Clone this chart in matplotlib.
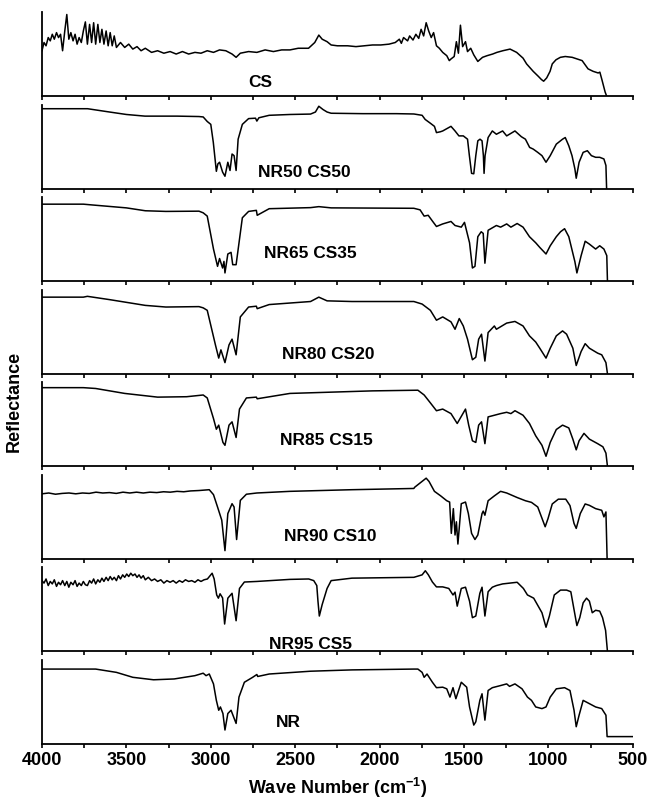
import numpy as np
import matplotlib.pyplot as plt
from matplotlib.ticker import MultipleLocator

plt.rcParams['font.family'] = ['Liberation Sans', 'DejaVu Sans']
plt.rcParams['font.weight'] = 'bold'
plt.rcParams['mathtext.fontset'] = 'custom'
plt.rcParams['mathtext.bf'] = 'Liberation Sans:bold'
plt.rcParams['mathtext.rm'] = 'Liberation Sans:bold'

# spectra: wavenumber (cm-1) and relative reflectance
cs_wn = [4000, 3988, 3976, 3963, 3951, 3939, 3927, 3914, 3902, 3890, 3878, 3865, 3853, 3841,
         3829, 3816, 3804, 3792, 3780, 3767, 3755, 3743, 3731, 3718, 3706, 3694, 3682, 3669,
         3657, 3645, 3633, 3620, 3608, 3596, 3584, 3572, 3559, 3535, 3510, 3486, 3462, 3437,
         3413, 3388, 3351, 3315, 3278, 3241, 3205, 3168, 3131, 3094, 3058, 3021, 2984, 2948,
         2911, 2874, 2850, 2825, 2776, 2727, 2678, 2629, 2580, 2531, 2482, 2421, 2384, 2360,
         2340, 2311, 2287, 2250, 2189, 2140, 2091, 2042, 1993, 1944, 1907, 1883, 1871, 1858,
         1834, 1822, 1802, 1785, 1768, 1754, 1739, 1724, 1709, 1694, 1680, 1663, 1646, 1626,
         1602, 1587, 1577, 1558, 1545, 1533, 1521, 1508, 1491, 1479, 1460, 1442, 1418, 1390,
         1363, 1330, 1305, 1270, 1227, 1188, 1150, 1129, 1090, 1060, 1041, 1028, 1010, 990,
         977, 955, 929, 900, 859, 830, 800, 765, 735, 705, 695, 683, 664, 655]
cs_r = [0.55, 0.65, 0.61, 0.71, 0.67, 0.75, 0.69, 0.77, 0.71, 0.75, 0.55, 0.79, 0.99, 0.69,
        0.77, 0.67, 0.75, 0.63, 0.71, 0.65, 0.79, 0.90, 0.63, 0.87, 0.65, 0.89, 0.63, 0.87,
        0.65, 0.81, 0.63, 0.79, 0.61, 0.77, 0.61, 0.73, 0.59, 0.65, 0.59, 0.63, 0.57, 0.60,
        0.55, 0.58, 0.53, 0.55, 0.52, 0.54, 0.51, 0.54, 0.51, 0.53, 0.52, 0.55, 0.53, 0.56,
        0.55, 0.51, 0.47, 0.52, 0.54, 0.53, 0.56, 0.54, 0.56, 0.56, 0.58, 0.58, 0.65, 0.74,
        0.69, 0.66, 0.62, 0.61, 0.61, 0.60, 0.61, 0.62, 0.62, 0.63, 0.65, 0.69, 0.64, 0.71,
        0.67, 0.73, 0.68, 0.75, 0.70, 0.81, 0.73, 0.89, 0.79, 0.71, 0.77, 0.61, 0.58, 0.53,
        0.49, 0.43, 0.45, 0.48, 0.66, 0.52, 0.86, 0.60, 0.66, 0.54, 0.58, 0.50, 0.42, 0.47,
        0.49, 0.51, 0.53, 0.55, 0.57, 0.53, 0.46, 0.39, 0.30, 0.24, 0.20, 0.18, 0.22, 0.30,
        0.39, 0.44, 0.47, 0.48, 0.47, 0.45, 0.43, 0.33, 0.30, 0.28, 0.29, 0.20, 0.05, 0.0]

nr50_wn = [4000, 3730, 3600, 3500, 3390, 3200, 3070, 3045, 3021, 3000, 2985, 2967, 2958, 2948,
           2930, 2916, 2899, 2886, 2874, 2862, 2850, 2838, 2813, 2776, 2735, 2727, 2715, 2654,
           2531, 2409, 2380, 2360, 2335, 2311, 2287, 2100, 1900, 1797, 1748, 1730, 1700, 1675,
           1663, 1640, 1626, 1577, 1553, 1530, 1504, 1479, 1468, 1455, 1442, 1430, 1418, 1405,
           1393, 1385, 1381, 1375, 1357, 1332, 1308, 1271, 1247, 1198, 1160, 1136, 1111, 1090,
           1063, 1038, 1014, 989, 953, 916, 900, 879, 860, 843, 835, 818, 794, 769, 745, 720,
           696, 671, 659, 655]
nr50_r = [0.97, 0.97, 0.93, 0.90, 0.88, 0.88, 0.875, 0.87, 0.815, 0.78, 0.56, 0.21, 0.30, 0.32,
          0.20, 0.15, 0.32, 0.22, 0.42, 0.40, 0.22, 0.60, 0.78, 0.85, 0.855, 0.82, 0.86, 0.89,
          0.90, 0.905, 0.93, 1.0, 0.96, 0.93, 0.915, 0.91, 0.91, 0.906, 0.89, 0.84, 0.795, 0.756,
          0.68, 0.69, 0.70, 0.756, 0.70, 0.64, 0.64, 0.60, 0.40, 0.185, 0.18, 0.40, 0.58, 0.60,
          0.58, 0.40, 0.185, 0.40, 0.62, 0.70, 0.66, 0.70, 0.64, 0.70, 0.63, 0.60, 0.50, 0.48,
          0.44, 0.40, 0.32, 0.40, 0.54, 0.60, 0.62, 0.52, 0.40, 0.24, 0.126, 0.32, 0.44, 0.46,
          0.40, 0.38, 0.38, 0.36, 0.28, 0.0]

nr65_wn = [4000, 3755, 3700, 3500, 3388, 3266, 3070, 3045, 3021, 2984, 2960, 2948, 2930, 2922,
           2916, 2899, 2880, 2870, 2850, 2813, 2776, 2730, 2725, 2654, 2409, 2360, 2287, 1797,
           1760, 1736, 1712, 1687, 1663, 1626, 1577, 1553, 1516, 1497, 1467, 1450, 1435, 1418,
           1398, 1386, 1376, 1357, 1308, 1283, 1247, 1222, 1185, 1150, 1112, 1075, 1051, 1014,
           989, 953, 928, 904, 879, 843, 831, 806, 782, 757, 720, 696, 671, 654, 650]
nr65_r = [0.935, 0.935, 0.925, 0.89, 0.855, 0.847, 0.85, 0.83, 0.79, 0.39, 0.18, 0.275, 0.16,
          0.24, 0.10, 0.33, 0.35, 0.20, 0.20, 0.77, 0.847, 0.86, 0.80, 0.88, 0.893, 0.905, 0.89,
          0.885, 0.866, 0.79, 0.80, 0.73, 0.664, 0.695, 0.725, 0.676, 0.656, 0.714, 0.466, 0.16,
          0.18, 0.54, 0.60, 0.58, 0.218, 0.618, 0.676, 0.656, 0.695, 0.656, 0.70, 0.656, 0.54,
          0.466, 0.41, 0.33, 0.43, 0.54, 0.60, 0.637, 0.54, 0.237, 0.10, 0.31, 0.485, 0.45, 0.39,
          0.43, 0.39, 0.31, 0.0]

nr80_wn = [4000, 3755, 3731, 3600, 3388, 3266, 3070, 3045, 3021, 2972, 2953, 2940, 2916, 2892,
           2874, 2850, 2825, 2776, 2730, 2725, 2654, 2409, 2360, 2311, 2164, 1797, 1748, 1699,
           1663, 1626, 1577, 1553, 1528, 1504, 1479, 1450, 1430, 1413, 1396, 1376, 1357, 1320,
           1308, 1247, 1198, 1150, 1112, 1075, 1051, 1014, 989, 953, 916, 892, 855, 835, 806,
           782, 757, 708, 684, 659, 650]
nr80_r = [0.93, 0.93, 0.94, 0.90, 0.83, 0.81, 0.815, 0.80, 0.77, 0.346, 0.19, 0.29, 0.135, 0.35,
          0.42, 0.23, 0.69, 0.81, 0.82, 0.79, 0.84, 0.877, 0.93, 0.885, 0.877, 0.877, 0.846,
          0.77, 0.65, 0.69, 0.63, 0.54, 0.67, 0.58, 0.42, 0.17, 0.20, 0.42, 0.48, 0.154, 0.50,
          0.58, 0.54, 0.615, 0.635, 0.58, 0.46, 0.385, 0.31, 0.19, 0.31, 0.46, 0.52, 0.48, 0.31,
          0.10, 0.27, 0.365, 0.31, 0.25, 0.23, 0.135, 0.0]

nr85_wn = [4000, 3755, 3682, 3510, 3315, 3143, 3045, 3021, 2984, 2967, 2953, 2928, 2916, 2892,
           2874, 2850, 2830, 2789, 2730, 2725, 2531, 2042, 1773, 1736, 1699, 1663, 1626, 1577,
           1540, 1491, 1472, 1450, 1430, 1413, 1396, 1376, 1357, 1320, 1283, 1247, 1222, 1198,
           1150, 1112, 1075, 1038, 1014, 989, 953, 916, 879, 855, 835, 818, 789, 757, 708, 677,
           659, 650]
nr85_r = [0.955, 0.955, 0.945, 0.885, 0.84, 0.845, 0.866, 0.83, 0.58, 0.45, 0.50, 0.29, 0.255,
          0.50, 0.54, 0.35, 0.695, 0.83, 0.84, 0.82, 0.885, 0.916, 0.924, 0.866, 0.77, 0.675,
          0.695, 0.64, 0.52, 0.695, 0.50, 0.31, 0.29, 0.50, 0.54, 0.275, 0.60, 0.62, 0.64, 0.656,
          0.64, 0.675, 0.62, 0.52, 0.37, 0.255, 0.122, 0.29, 0.447, 0.50, 0.466, 0.33, 0.20, 0.31,
          0.40, 0.33, 0.275, 0.237, 0.16, 0.0]

nr90_wn = [4000, 3960, 3920, 3880, 3840, 3800, 3760, 3720, 3680, 3640, 3600, 3560, 3520, 3480,
           3440, 3400, 3360, 3320, 3280, 3240, 3200, 3160, 3120, 3070, 3009, 2984, 2960, 2935,
           2916, 2899, 2874, 2862, 2847, 2825, 2789, 2727, 2531, 2164, 1797, 1792, 1724, 1707,
           1675, 1638, 1602, 1585, 1575, 1563, 1553, 1545, 1536, 1516, 1491, 1474, 1455, 1435,
           1418, 1393, 1386, 1376, 1357, 1320, 1283, 1247, 1185, 1136, 1100, 1063, 1019, 1002,
           977, 941, 897, 872, 848, 835, 811, 782, 757, 720, 684, 671, 659, 652]
nr90_r = [0.79, 0.80, 0.785, 0.795, 0.80, 0.79, 0.80, 0.795, 0.81, 0.80, 0.805, 0.795, 0.81,
          0.80, 0.81, 0.80, 0.81, 0.805, 0.815, 0.81, 0.82, 0.815, 0.825, 0.83, 0.84, 0.78, 0.63,
          0.47, 0.10, 0.55, 0.67, 0.63, 0.235, 0.71, 0.785, 0.80, 0.82, 0.84, 0.855, 0.87, 0.98,
          0.94, 0.82, 0.765, 0.706, 0.69, 0.31, 0.61, 0.29, 0.45, 0.18, 0.67, 0.69, 0.55, 0.31,
          0.235, 0.29, 0.55, 0.58, 0.53, 0.706, 0.765, 0.82, 0.80, 0.745, 0.706, 0.686, 0.63,
          0.39, 0.49, 0.667, 0.725, 0.725, 0.647, 0.43, 0.37, 0.55, 0.667, 0.65, 0.61, 0.59, 0.51,
          0.57, 0.0]

nr95_wn = [4000, 3988, 3976, 3963, 3951, 3939, 3927, 3914, 3902, 3890, 3878, 3865, 3853, 3841,
           3829, 3816, 3804, 3792, 3780, 3767, 3755, 3743, 3731, 3718, 3706, 3694, 3682, 3669,
           3657, 3645, 3633, 3620, 3608, 3596, 3584, 3572, 3559, 3547, 3535, 3522, 3510, 3498,
           3486, 3474, 3462, 3449, 3437, 3425, 3413, 3400, 3388, 3370, 3351, 3333, 3315, 3296,
           3278, 3260, 3241, 3223, 3205, 3186, 3168, 3150, 3131, 3113, 3094, 3076, 3058, 3040,
           3020, 2992, 2980, 2965, 2955, 2945, 2930, 2918, 2899, 2874, 2850, 2830, 2801, 2727,
           2531, 2420, 2390, 2372, 2365, 2357, 2340, 2311, 2287, 2164, 1797, 1748, 1729, 1711,
           1687, 1663, 1626, 1590, 1565, 1553, 1540, 1516, 1491, 1467, 1450, 1430, 1406, 1393,
           1376, 1357, 1332, 1308, 1271, 1210, 1185, 1148, 1124, 1087, 1038, 1014, 994, 965, 928,
           892, 867, 843, 831, 814, 794, 774, 757, 740, 720, 696, 679, 661, 650]
nr95_r = [0.86, 0.83, 0.88, 0.80, 0.85, 0.82, 0.87, 0.79, 0.84, 0.81, 0.86, 0.80, 0.85, 0.78,
          0.84, 0.81, 0.86, 0.79, 0.83, 0.80, 0.85, 0.81, 0.80, 0.86, 0.83, 0.88, 0.82, 0.87,
          0.84, 0.89, 0.85, 0.90, 0.86, 0.91, 0.87, 0.90, 0.86, 0.92, 0.88, 0.93, 0.90, 0.94,
          0.91, 0.95, 0.92, 0.94, 0.90, 0.93, 0.89, 0.92, 0.87, 0.90, 0.86, 0.88, 0.85, 0.87,
          0.83, 0.86, 0.84, 0.86, 0.83, 0.86, 0.84, 0.87, 0.85, 0.86, 0.84, 0.87, 0.85, 0.87,
          0.88, 0.95, 0.88, 0.686, 0.647, 0.70, 0.65, 0.333, 0.647, 0.706, 0.373, 0.765, 0.843,
          0.85, 0.875, 0.88, 0.86, 0.80, 0.61, 0.43, 0.57, 0.765, 0.86, 0.89, 0.90, 0.93, 0.98,
          0.93, 0.843, 0.784, 0.784, 0.765, 0.686, 0.72, 0.55, 0.765, 0.78, 0.61, 0.41, 0.43,
          0.706, 0.78, 0.43, 0.725, 0.78, 0.80, 0.82, 0.835, 0.84, 0.765, 0.686, 0.647, 0.47,
          0.294, 0.43, 0.686, 0.745, 0.745, 0.725, 0.45, 0.314, 0.41, 0.59, 0.647, 0.61, 0.47,
          0.50, 0.49, 0.41, 0.255, 0.0]

nr_wn = [4000, 3682, 3559, 3462, 3339, 3217, 3094, 3045, 3028, 3009, 2984, 2967, 2953, 2943,
         2928, 2916, 2899, 2880, 2850, 2833, 2801, 2752, 2727, 2722, 2654, 2409, 2164, 1797,
         1773, 1748, 1736, 1719, 1687, 1663, 1626, 1602, 1583, 1565, 1548, 1516, 1484, 1467,
         1442, 1430, 1406, 1393, 1376, 1357, 1332, 1283, 1247, 1230, 1198, 1156, 1124, 1100,
         1075, 1038, 1014, 989, 953, 904, 872, 848, 835, 818, 794, 757, 720, 684, 659, 652, 500]
nr_r = [0.91, 0.91, 0.87, 0.81, 0.78, 0.79, 0.83, 0.86, 0.83, 0.85, 0.73, 0.53, 0.41, 0.45,
        0.37, 0.17, 0.37, 0.41, 0.25, 0.57, 0.75, 0.81, 0.844, 0.82, 0.85, 0.884, 0.90, 0.91,
        0.91, 0.87, 0.81, 0.85, 0.75, 0.684, 0.69, 0.67, 0.57, 0.684, 0.55, 0.75, 0.69, 0.45,
        0.23, 0.27, 0.53, 0.61, 0.29, 0.65, 0.684, 0.71, 0.73, 0.70, 0.73, 0.67, 0.57, 0.53,
        0.45, 0.43, 0.45, 0.57, 0.67, 0.684, 0.65, 0.41, 0.21, 0.35, 0.53, 0.49, 0.45, 0.43,
        0.35, 0.09, 0.09]

names = ['CS', 'NR50 CS50', 'NR65 CS35', 'NR80 CS20', 'NR85 CS15', 'NR90 CS10', 'NR95 CS5', 'NR']
spectra = [(cs_wn, cs_r), (nr50_wn, nr50_r), (nr65_wn, nr65_r), (nr80_wn, nr80_r),
           (nr85_wn, nr85_r), (nr90_wn, nr90_r), (nr95_wn, nr95_r), (nr_wn, nr_r)]
label_x = [2708, 2444, 2408, 2302, 2314, 2290, 2412, 2543]
label_y = [0.16, 0.20, 0.33, 0.23, 0.31, 0.27, 0.09, 0.26]

fig, axes = plt.subplots(8, 1, figsize=(6.51, 8.02), dpi=100, sharex=True)
fig.subplots_adjust(left=0.0645, right=0.972, top=0.985, bottom=0.0723, hspace=0.102)

for ax, (wn, r), name, lx, ly in zip(axes, spectra, names, label_x, label_y):
    ax.plot(wn, r, color='black', lw=1.1)
    ax.text(lx, ly, name, ha='center', va='center', fontsize=12.5, fontweight='bold')
    ax.set_ylim(0, 1.02)
    ax.set_yticks([])
    for s in ['top', 'right']:
        ax.spines[s].set_visible(False)
    for s in ['left', 'bottom']:
        ax.spines[s].set_linewidth(1.3)
    ax.xaxis.set_major_locator(MultipleLocator(500))
    ax.xaxis.set_minor_locator(MultipleLocator(250))
    ax.tick_params(axis='x', which='major', direction='out', length=3, width=1.2)
    ax.tick_params(axis='x', which='minor', direction='out', length=3, width=1.2)

axes[-1].set_xlim(4000, 500)
axes[-1].tick_params(axis='x', labelsize=13, pad=3)
for t in axes[-1].get_xticklabels():
    t.set_fontweight('bold')
axes[-1].set_xlabel(r'Wave Number (cm$^{\mathbf{-1}}$)', fontsize=13, fontweight='bold', labelpad=5)
fig.text(0.022, 0.50, 'Reflectance', rotation=90, ha='center', va='center',
         fontsize=13, fontweight='bold')

fig.savefig('out.png', dpi=100)
